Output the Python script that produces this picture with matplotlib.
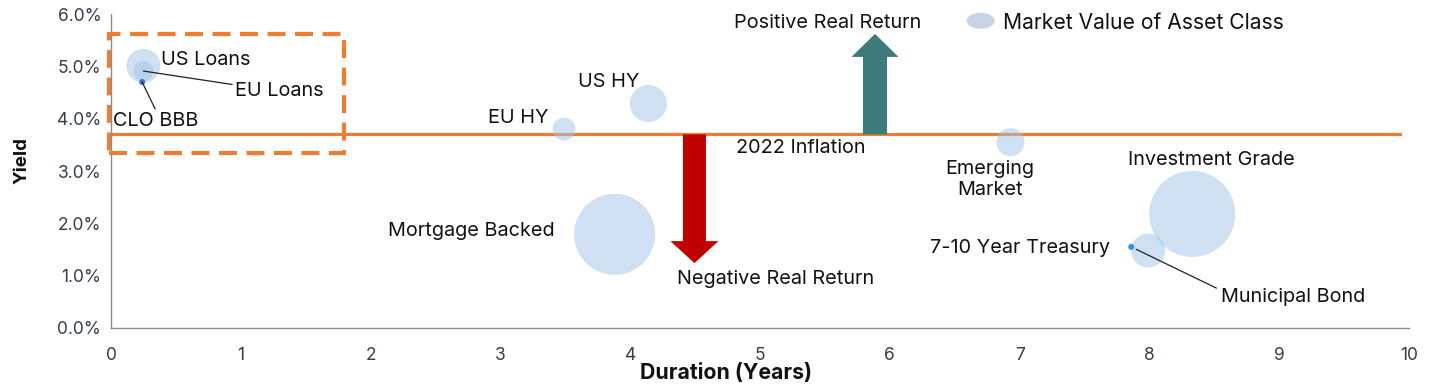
import matplotlib
matplotlib.use("Agg")
import matplotlib.pyplot as plt
from matplotlib.patches import Rectangle, Ellipse, FancyArrow

plt.rcParams['font.family'] = ['Inter', 'DejaVu Sans']

# ---- data ----
assets = ["US Loans", "EU Loans", "CLO BBB", "EU HY", "US HY", "Mortgage Backed",
          "Emerging Market", "Investment Grade", "Municipal Bond", "7-10 Year Treasury"]
duration = [0.25, 0.25, 0.24, 3.49, 4.14, 3.88, 6.93, 8.33, 7.99, 7.86]
yield_pct = [5.01, 4.91, 4.70, 3.80, 4.29, 1.79, 3.55, 2.18, 1.48, 1.55]
market_value = [289, 100, 9, 132, 342, 1640, 196, 1849, 289, 9]   # relative bubble area
inflation_2022 = 3.7
xticks = list(range(0, 11))
yticks = [0, 1, 2, 3, 4, 5, 6]

bubble_colors = ['#9fc3e7'] * 10
bubble_colors[2] = '#4472c4'
bubble_colors[9] = '#2f8ff0'
bubble_alpha = [0.5] * 10
bubble_alpha[2] = 1.0
bubble_alpha[9] = 1.0

fig = plt.figure(figsize=(14.48, 3.92), dpi=100)
ax = fig.add_axes([111/1448, 1-328/392, 1298/1448, 314/392])
ax.set_xlim(0, 10)
ax.set_ylim(0, 6)

# bubbles: pixel radius^2 ~ market_value -> s in pt^2
for x, y, mv, c, a in zip(duration, yield_pct, market_value, bubble_colors, bubble_alpha):
    r_pt = (mv ** 0.5) * 0.72
    ax.scatter(x, y, s=(2 * r_pt) ** 2, color=c, alpha=a, edgecolors='none', zorder=3)

orange = '#ed7d31'
ax.axhline(inflation_2022, xmin=0, xmax=0.993, color=orange, lw=2.3, zorder=2)

# arrows
ax.add_patch(FancyArrow(5.886, inflation_2022, 0, 5.62 - inflation_2022, width=0.185,
                        head_width=0.362, head_length=0.44, length_includes_head=True,
                        color='#3d7a7c', lw=0, zorder=4))
ax.add_patch(FancyArrow(4.495, inflation_2022, 0, 1.24 - inflation_2022, width=0.177,
                        head_width=0.37, head_length=0.42, length_includes_head=True,
                        color='#c00000', lw=0, zorder=4))

# dashed box
ax.add_patch(Rectangle((-0.015, 3.35), 1.81, 2.27, fill=False, edgecolor=orange,
                       lw=3, linestyle=(0, (4.3, 2.3)), clip_on=False, zorder=5))

fs = 14.3
tc = '#111111'
ax.text(0.385, 5.12, "US Loans", ha='left', va='center', fontsize=fs, color=tc)
ax.annotate("EU Loans", xy=(duration[1], yield_pct[1]), xytext=(0.955, 4.53),
            ha='left', va='center', fontsize=fs, color=tc,
            arrowprops=dict(arrowstyle='-', color='#222222', lw=0.9, relpos=(-0.02, 0.85),
                            shrinkA=0, shrinkB=0))
ax.annotate("CLO BBB", xy=(duration[2], yield_pct[2]), xytext=(0.347, 3.96),
            ha='center', va='center', fontsize=fs, color=tc,
            arrowprops=dict(arrowstyle='-', color='#222222', lw=0.9, relpos=(0.5, 1.05),
                            shrinkA=0, shrinkB=0))
ax.text(3.374, 4.02, "EU HY", ha='right', va='center', fontsize=fs, color=tc)
ax.text(3.837, 4.70, "US HY", ha='center', va='center', fontsize=fs, color=tc)
ax.text(3.42, 1.855, "Mortgage Backed", ha='right', va='center', fontsize=fs, color=tc)
ax.text(6.77, 2.83, "Emerging\nMarket", ha='center', va='center', fontsize=fs, color=tc,
        linespacing=1.2)
ax.text(8.48, 3.21, "Investment Grade", ha='center', va='center', fontsize=fs, color=tc)
ax.text(7.70, 1.53, "7-10 Year Treasury", ha='right', va='center', fontsize=fs, color=tc)
ax.annotate("Municipal Bond", xy=(duration[9], yield_pct[9]), xytext=(8.55, 0.59),
            ha='left', va='center', fontsize=fs, color=tc,
            arrowprops=dict(arrowstyle='-', color='#222222', lw=0.9, relpos=(-0.03, 1.0),
                            shrinkA=0, shrinkB=4))
ax.text(4.815, 3.44, "2022 Inflation", ha='left', va='center', fontsize=fs, color=tc)
ax.text(4.36, 0.94, "Negative Real Return", ha='left', va='center', fontsize=fs, color=tc)
ax.text(5.52, 5.83, "Positive Real Return", ha='center', va='center', fontsize=fs, color=tc,
        clip_on=False)

# legend
ax.add_patch(Ellipse((6.70, 5.87), 0.216, 0.306, color='#c8d4e3', lw=0, clip_on=False))
ax.text(6.87, 5.83, "Market Value of Asset Class", ha='left', va='center', fontsize=15.2,
        color=tc, clip_on=False)

# axes styling
for s in ['top', 'right']:
    ax.spines[s].set_visible(False)
for s in ['left', 'bottom']:
    ax.spines[s].set_color('#8c8c8c')
    ax.spines[s].set_linewidth(1.0)
ax.set_xticks(xticks)
ax.set_xticklabels([str(t) for t in xticks])
ax.set_yticks(yticks)
ax.set_yticklabels([f"{t:.1f}%" for t in yticks])
ax.tick_params(axis='both', length=0, labelsize=12.5, labelcolor='#333d4d')
ax.tick_params(axis='x', pad=14)
ax.tick_params(axis='y', pad=7)
ax.set_xlabel("Duration (Years)", fontsize=15.3, fontweight='bold', color='#111111')
ax.xaxis.set_label_coords(0.474, -0.11)
ax.set_ylabel("Yield", fontsize=13.5, fontweight='bold', color='#111111')
ax.yaxis.set_label_coords(-0.062, 0.535)

fig.savefig("out.png", dpi=100)
